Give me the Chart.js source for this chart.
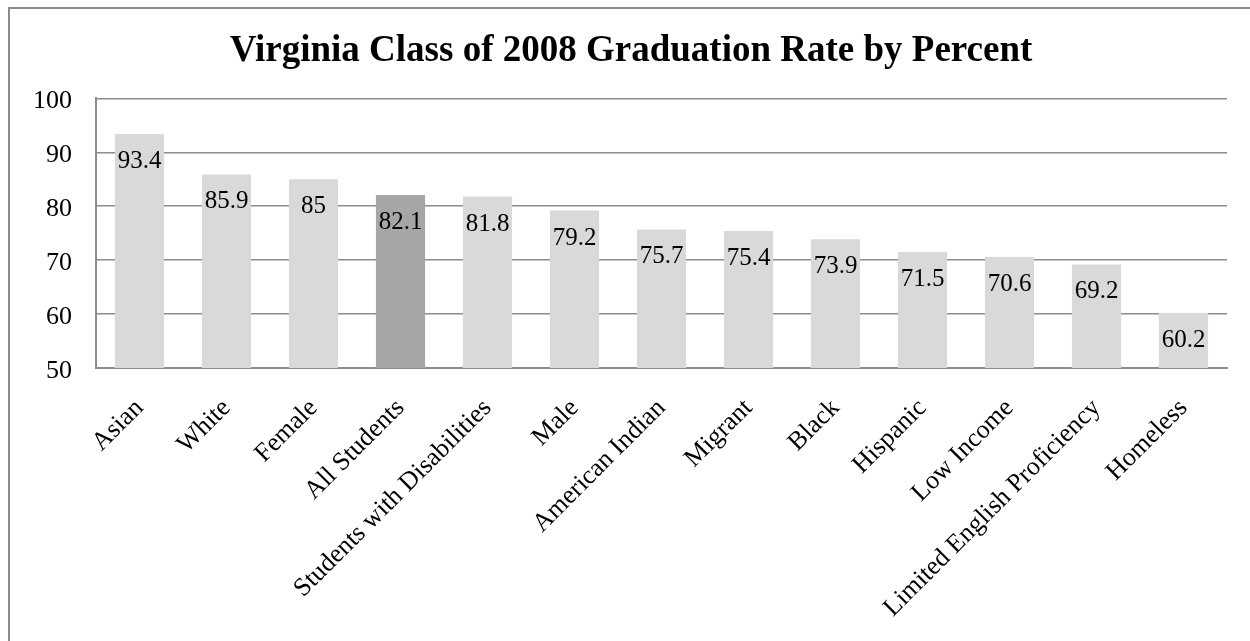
<!DOCTYPE html>
<html>
<head>
<meta charset="utf-8">
<title>Virginia Class of 2008 Graduation Rate by Percent</title>
<script src="https://cdn.jsdelivr.net/npm/chart.js@4/dist/chart.umd.min.js"></script>
<style>
  html, body { margin: 0; padding: 0; background: #fff; overflow: hidden; }
  #wrap { position: relative; width: 1250px; height: 641px; }
  #frame { position: absolute; left: 8px; top: 7px; width: 1400px; height: 800px; border: 2px solid #8c8c8c; }
  #chart { position: absolute; left: 0; top: 0; }
</style>
</head>
<body>
<div id="wrap">
  <div id="frame"></div>
  <canvas id="chart" width="1250" height="641"></canvas>
</div>
<script>
// data
const groups = ['Asian', 'White', 'Female', 'All Students', 'Students with Disabilities', 'Male',
  'American Indian', 'Migrant', 'Black', 'Hispanic', 'Low Income', 'Limited English Proficiency', 'Homeless'];
const rates = [93.4, 85.9, 85, 82.1, 81.8, 79.2, 75.7, 75.4, 73.9, 71.5, 70.6, 69.2, 60.2];
const yTicks = [50, 60, 70, 80, 90, 100];
const highlight = 'All Students';

const FONT = '"Liberation Serif", "Times New Roman", serif';
const AXIS_GRAY = '#8c8c8c';

// value labels drawn inside the top of each bar
const barValues = {
  id: 'barValues',
  afterDatasetsDraw(chart) {
    const ctx = chart.ctx;
    const meta = chart.getDatasetMeta(0);
    ctx.save();
    ctx.font = '25px ' + FONT;
    ctx.fillStyle = '#000';
    ctx.textAlign = 'center';
    ctx.textBaseline = 'alphabetic';
    meta.data.forEach((bar, i) => {
      ctx.fillText(String(rates[i]), bar.x, bar.y + 34);
    });
    ctx.restore();
  }
};

new Chart(document.getElementById('chart'), {
  type: 'bar',
  data: {
    labels: groups,
    datasets: [{
      data: rates,
      backgroundColor: groups.map(g => g === highlight ? '#a6a6a6' : '#d9d9d9'),
      borderWidth: 0,
      categoryPercentage: 1,
      barPercentage: 0.565
    }]
  },
  options: {
    responsive: false,
    animation: false,
    events: [],
    layout: { padding: { left: 35, right: 23, top: 0, bottom: 0 } },
    plugins: {
      legend: { display: false },
      tooltip: { enabled: false },
      title: {
        display: true,
        text: 'Virginia Class of 2008 Graduation Rate by Percent',
        color: '#000',
        font: { family: FONT, size: 37, weight: 'bold', lineHeight: 1.2 },
        padding: { top: 29, bottom: 25 }
      }
    },
    scales: {
      x: {
        grid: { display: false, drawTicks: false },
        border: { display: true, color: AXIS_GRAY, width: 2 },
        ticks: {
          color: '#000',
          font: { family: FONT, size: 26 },
          minRotation: 45,
          maxRotation: 45,
          autoSkip: false,
          padding: 25
        },
        afterFit(scale) { scale.height = 273; }
      },
      y: {
        min: 50,
        max: 100,
        afterBuildTicks(scale) { scale.ticks = yTicks.map(v => ({ value: v })); },
        grid: { color: AXIS_GRAY, lineWidth: 1.5, drawTicks: false },
        border: { display: true, color: AXIS_GRAY, width: 2 },
        ticks: {
          color: '#000',
          font: { family: FONT, size: 26 },
          padding: 24,
          labelOffset: 3
        },
        afterFit(scale) { scale.width = 61; }
      }
    }
  },
  plugins: [barValues]
});
</script>
</body>
</html>
